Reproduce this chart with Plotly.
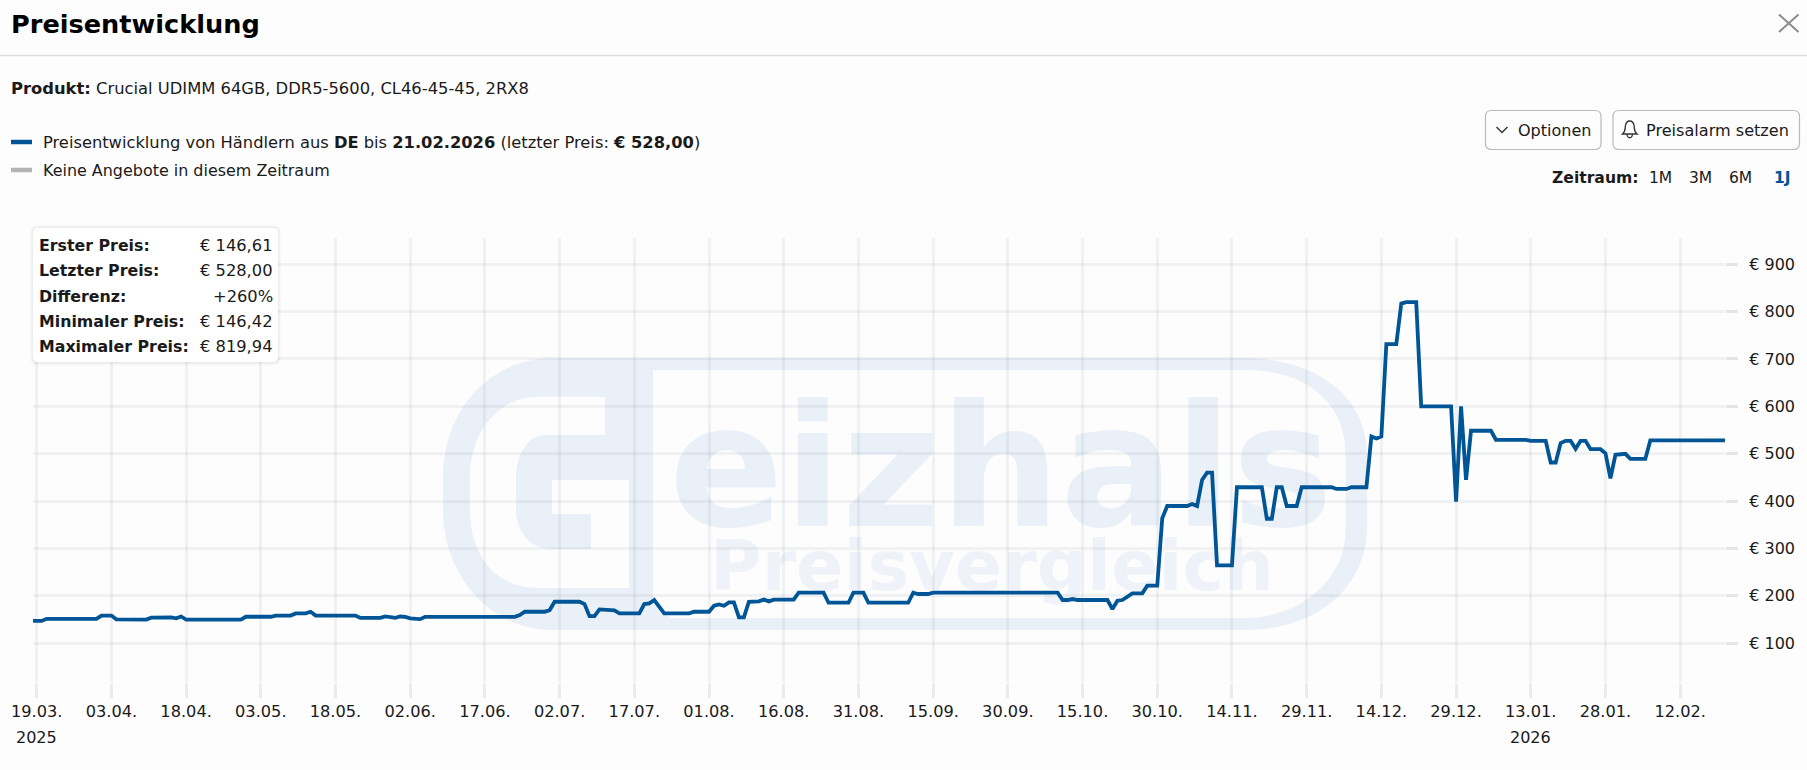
import pandas as pd
import plotly.graph_objects as go

W, H = 1807, 770
L, R, T, B = 33, 1725, 238, 683
FONT = "DejaVu Sans"
BLUE = "#005596"
INK = "#1a1a1a"

first_day = "2025-03-18"
day_offsets = [0, 2, 3, 13, 14, 16, 17, 23, 24, 28, 29, 30, 31, 42, 43, 46, 47, 48, 49, 52, 53, 55, 56, 57, 65, 66, 70, 71,
               73, 74, 75, 76, 78, 79, 97, 98, 99, 103, 104, 105, 110, 111, 112, 113, 114, 117, 118, 122, 123, 124, 125,
               127, 132, 133, 136, 137, 138, 139, 140, 141, 142, 143, 144, 146, 147, 148, 149, 153, 154, 159, 160, 164,
               165, 167, 168, 176, 177, 178, 180, 181, 206, 207, 208, 209, 210, 216, 217, 218, 219, 221, 223, 224, 226,
               227, 228, 232, 233, 234, 235, 236, 237, 238, 241, 242, 247, 248, 249, 250, 251, 252, 254, 255, 261, 262,
               264, 265, 268, 269, 270, 271, 272, 274, 275, 276, 278, 279, 285, 286, 287, 288, 289, 293, 294, 300, 301,
               304, 305, 306, 307, 308, 309, 310, 311, 312, 313, 315, 316, 317, 318, 320, 321, 324, 325, 340]
prices = [146.61, 146.61, 151, 151, 158, 158, 150, 149.5, 153.5, 154, 152, 156, 149.5, 149.5, 155.5, 155.5, 157, 155.5,
          158, 158, 162.5, 162.5, 166, 158, 158, 153, 153, 156, 153, 156, 155, 152, 150.5, 155.4, 155.4, 159, 166, 166,
          169.6, 187.2, 187.2, 182.3, 156.8, 156.8, 171, 168.8, 162.5, 162.5, 182.3, 183.7, 190.8, 162.5, 162.5, 166,
          166, 178.7, 181.6, 178.7, 185.8, 185.8, 154, 154, 187.2, 187.9, 192, 187.9, 191.5, 191.5, 206.3, 206.3, 185.1,
          185.1, 206.3, 206.3, 185.1, 185.1, 206.3, 203.5, 203.5, 206.3, 206.3, 190.8, 190.8, 192.9, 190.8, 190.8,
          171.7, 189.4, 190.8, 204.9, 204.9, 221.2, 221.2, 363.2, 389.4, 389.4, 393.6, 389.4, 444.5, 460, 460, 264.2,
          264.2, 429, 429, 362.5, 362.5, 429, 429, 389.4, 389.4, 429, 429, 425.4, 425.4, 429, 429, 536.4, 532.2, 536.4,
          731.5, 731.5, 817, 819.94, 819.94, 600, 600, 398.5, 600, 444.5, 548.4, 548.4, 529.3, 529.3, 527.2, 527.2,
          481.3, 481.3, 522.3, 527.2, 527.2, 510.2, 527.2, 527.2, 509.5, 509.5, 501, 448, 497.5, 499.7, 489, 489, 528, 528]

tick_dates = ["2025-03-19", "2025-04-03", "2025-04-18", "2025-05-03", "2025-05-18", "2025-06-02", "2025-06-17",
              "2025-07-02", "2025-07-17", "2025-08-01", "2025-08-16", "2025-08-31", "2025-09-15", "2025-09-30",
              "2025-10-15", "2025-10-30", "2025-11-14", "2025-11-29", "2025-12-14", "2025-12-29", "2026-01-13",
              "2026-01-28", "2026-02-12"]
tick_labels = ["19.03.", "03.04.", "18.04.", "03.05.", "18.05.", "02.06.", "17.06.", "02.07.", "17.07.", "01.08.",
               "16.08.", "31.08.", "15.09.", "30.09.", "15.10.", "30.10.", "14.11.", "29.11.", "14.12.", "29.12.",
               "13.01.", "28.01.", "12.02."]
year_labels = [("2025-03-19", "2025"), ("2026-01-13", "2026")]
price_ticks = [100, 200, 300, 400, 500, 600, 700, 800, 900]
price_labels = ["€ 100", "€ 200", "€ 300", "€ 400", "€ 500", "€ 600", "€ 700", "€ 800", "€ 900"]
summary_labels = ["Erster Preis:", "Letzter Preis:", "Differenz:", "Minimaler Preis:", "Maximaler Preis:"]
summary_values = ["€ 146,61", "€ 528,00", "+260%", "€ 146,42", "€ 819,94"]
summary_rows_y = [245, 270, 296, 321, 346]
periods = [("1M", 1660, False), ("3M", 1700, False), ("6M", 1740, False), ("1J", 1782.5, True)]

dates = pd.to_datetime(first_day) + pd.to_timedelta(day_offsets, unit="D")


def px(x):
    return (x - L) / (R - L)


def py(y):
    return 1 - (y - T) / (B - T)


def path(points):
    """Turn a pixel-space outline into a paper-space SVG path."""
    out = []
    for cmd, *nums in points:
        conv = []
        for i in range(0, len(nums), 2):
            conv.append(f"{px(nums[i]):.5f},{py(nums[i + 1]):.5f}")
        out.append(cmd + " ".join(conv))
    return " ".join(out)


def rounded(x0, y0, x1, y1, r):
    return [("M", x0 + r, y0), ("L", x1 - r, y0), ("Q", x1, y0, x1, y0 + r), ("L", x1, y1 - r),
            ("Q", x1, y1, x1 - r, y1), ("L", x0 + r, y1), ("Q", x0, y1, x0, y1 - r), ("L", x0, y0 + r),
            ("Q", x0, y0, x0 + r, y0), ("Z",)]


def pshape(points, fill=None, line=None, width=1, layer="above"):
    return dict(type="path", xref="paper", yref="paper", path=path(points), layer=layer,
                fillcolor=fill or "rgba(0,0,0,0)", line=dict(color=line or "rgba(0,0,0,0)", width=width if line else 0))


def text(x, y, s, size=16.2, color=INK, anchor="left"):
    return dict(xref="paper", yref="paper", x=px(x), y=py(y), text=s, showarrow=False, xanchor=anchor, yanchor="middle",
                align=anchor, font=dict(family=FONT, size=size, color=color), borderpad=0, borderwidth=0)


WM = "#eaf0f7"
logo = [
    ("M", 1244, 358.3), ("C", 1320, 358, 1367, 400, 1367, 453), ("L", 1367, 527),
    ("C", 1367, 585, 1320, 630, 1244, 630), ("L", 552, 630), ("C", 490, 630, 443, 575, 443, 510),
    ("L", 443, 477), ("C", 443, 410, 490, 358.3, 552, 358.3), ("Z",),
    ("M", 605, 396.7), ("L", 538, 396.7), ("C", 498, 397, 470, 432, 470, 477), ("L", 470, 510),
    ("C", 470, 555, 495, 588, 538, 588), ("L", 629, 588), ("L", 629, 480), ("L", 552, 480), ("L", 552, 514),
    ("L", 591, 514), ("L", 591, 549), ("L", 553, 549), ("C", 525, 549, 516, 525, 516, 510), ("L", 516, 477),
    ("C", 516, 455, 528, 435, 545, 435), ("L", 605, 435), ("Z",),
    ("M", 653, 370), ("L", 1244, 370), ("C", 1310, 370, 1345, 405, 1345.5, 453), ("L", 1345.5, 530),
    ("C", 1345.5, 580, 1300, 618, 1244, 618), ("L", 670, 618), ("L", 653, 595), ("Z",),
]

shapes = [
    pshape(logo, fill=WM, layer="below"),
    dict(type="rect", xref="paper", yref="paper", x0=px(660), x1=px(1342), y0=py(525), y1=py(385), layer="below",
         line=dict(width=0), fillcolor="rgba(0,0,0,0)",
         label=dict(text="<b>eizhals</b>", textposition="middle center",
                    font=dict(family=FONT, size=169, color=WM))),
    dict(type="rect", xref="paper", yref="paper", x0=px(700), x1=px(1284), y0=py(591), y1=py(531), layer="below",
         line=dict(width=0), fillcolor="rgba(0,0,0,0)",
         label=dict(text="<b>Preisvergleich</b>", textposition="middle center",
                    font=dict(family=FONT, size=70, color="#eff3f9"))),
    # page furniture
    pshape([("M", 0, 55.5), ("L", W, 55.5)], line="#dedede", width=1.5),
    pshape([("M", 1779, 14.5), ("L", 1798.5, 32)], line="#8c8c8c", width=2),
    pshape([("M", 1798.5, 14.5), ("L", 1779, 32)], line="#8c8c8c", width=2),
    pshape([("M", 11, 142), ("L", 32, 142)], line=BLUE, width=4.5),
    pshape([("M", 11, 170), ("L", 32, 170)], line="#b4b4b4", width=4.5),
    pshape(rounded(1485.5, 110.5, 1601, 149.5, 6), fill="#fdfdfd", line="#b9b9b9", width=1.2),
    pshape(rounded(1613, 110.5, 1799.5, 149.5, 6), fill="#fdfdfd", line="#b9b9b9", width=1.2),
    pshape([("M", 1496.5, 127), ("L", 1502, 132.5), ("L", 1507.5, 127)], line="#333333", width=1.4),
    pshape([("M", 1622.5, 134), ("C", 1626, 131, 1625, 127, 1625.5, 125.5), ("C", 1626.5, 119.5, 1633, 119.5, 1634, 125.5),
            ("C", 1634.5, 127, 1633.5, 131, 1637, 134), ("Z",),
            ("M", 1627, 134), ("C", 1627.5, 139, 1632, 139, 1632.5, 134)], line="#333333", width=1.3),
    # summary box with a soft shadow
    pshape(rounded(30, 225.5, 281, 365.5, 7), fill="rgba(0,0,0,0.025)"),
    pshape(rounded(31.5, 226.5, 279.5, 364, 6), fill="rgba(0,0,0,0.04)"),
    pshape(rounded(33, 228, 278, 362, 5), fill="#ffffff"),
]

annotations = [
    text(11, 24, "<b>Preisentwicklung</b>", size=25.6, color="#000000"),
    text(11, 89, "<b>Produkt:</b> Crucial UDIMM 64GB, DDR5-5600, CL46-45-45, 2RX8", size=16.35),
    text(43, 142.5, "Preisentwicklung von Händlern aus <b>DE</b> bis <b>21.02.2026</b> (letzter Preis: <b>€ 528,00</b>)",
         size=16.3),
    text(43, 170.5, "Keine Angebote in diesem Zeitraum", size=15.95),
    text(1518, 131, "Optionen", size=16),
    text(1646, 131, "Preisalarm setzen", size=16.1),
    text(1552, 178, "<b>Zeitraum:</b>", size=15.6),
]
for label, cx, active in periods:
    annotations.append(text(cx, 178, f"<b>{label}</b>" if active else label, size=15.5,
                            color=BLUE if active else INK, anchor="center"))
for label, value, y in zip(summary_labels, summary_values, summary_rows_y):
    annotations.append(text(39, y, f"<b>{label}</b>", size=15.8))
    annotations.append(text(272.5, y, value, size=16.3, anchor="right"))
for day, year in year_labels:
    annotations.append(dict(xref="x", yref="paper", x=day, y=py(737), text=year, showarrow=False, xanchor="center",
                            yanchor="middle", font=dict(family=FONT, size=16, color=INK)))

fig = go.Figure(go.Scatter(x=dates, y=prices, mode="lines", hoverinfo="skip",
                           line=dict(color=BLUE, width=3.8, shape="linear")))

GRID = "rgba(110,120,140,0.09)"
fig.update_layout(
    width=W, height=H, margin=dict(l=L, r=W - R, t=T, b=H - B, pad=0, autoexpand=False),
    paper_bgcolor="#fdfdfd", plot_bgcolor="rgba(0,0,0,0)", showlegend=False,
    font=dict(family=FONT, size=15.5, color=INK),
    shapes=shapes, annotations=annotations,
    xaxis=dict(type="date", range=["2025-03-18 06:10", "2026-02-21 00:00"], tickmode="array", tickvals=tick_dates,
               ticktext=tick_labels, tickangle=0, showgrid=True, gridcolor=GRID, gridwidth=2.5, zeroline=False,
               showline=False, ticks="outside", ticklen=14, tickwidth=2.5, tickcolor="#e9ebef",
               tickfont=dict(family=FONT, size=16.2, color=INK)),
    yaxis=dict(side="right", range=[15.5, 955.6], tickmode="array", tickvals=price_ticks, ticktext=price_labels,
               showgrid=True, gridcolor=GRID, gridwidth=2.5, zeroline=False, showline=False, ticks="outside",
               ticklen=12, tickwidth=2.5, tickcolor="#e6e6e6", ticklabelstandoff=8,
               tickfont=dict(family=FONT, size=16, color=INK)),
)

fig.write_html("out.html", config=dict(displayModeBar=False),
               post_script="document.body.style.margin='0';document.body.style.overflow='hidden';")
